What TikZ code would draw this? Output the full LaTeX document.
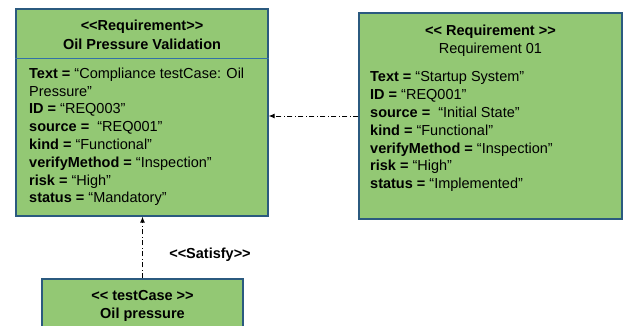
\documentclass[tikz,border=0pt]{standalone}
\usepackage{fontspec}
\setmainfont{Liberation Sans}
\usetikzlibrary{arrows.meta}
\definecolor{boxfill}{HTML}{93C874}
\definecolor{boxline}{HTML}{2B5A7F}
\definecolor{sepline}{HTML}{3272A8}
\newcommand{\guil}{<{}<}
\newcommand{\guir}{>{}>}
\tikzset{
  block/.style={draw=boxline, line width=1.3pt, fill=boxfill, inner sep=0pt},
  txt/.style={inner sep=0pt, font=\fontsize{14.5}{17.8}\selectfont},
  attrs/.style={txt, align=left, anchor=north west},
  title/.style={txt, anchor=base},
  dep/.style={line width=0.9pt, dash pattern=on 5pt off 2.5pt on 1pt off 2.5pt,
    -{Latex[length=6pt,width=5pt]}}
}
\begin{document}
\begin{tikzpicture}[x=1pt,y=-1pt]
\useasboundingbox (0,0) rectangle (623,325);
\clip (0,0) rectangle (623,325);

% requirement being validated
\node[block, minimum width=252pt, minimum height=207pt] (opv) at (142,112.5) {};
\draw[sepline, line width=1pt] (opv.west |- 0,58) coordinate (sepl) -- (opv.east |- 0,58) coordinate (sepr);
\node[title] (opvst) at (142,30) {\textbf{\guil Requirement\guir}};
\node[title] (opvname) at (142,49) {\textbf{Oil Pressure Validation}};
\node[attrs] (opvattr) at (29,67.5) {%
\textbf{Text =} “Compliance testCase: Oil\\
Pressure"\\
\textbf{ID =} “REQ003”\\
\textbf{source =} \ “REQ001”\\
\textbf{kind =} “Functional”\\
\textbf{verifyMethod =} “Inspection”\\
\textbf{risk =} “High”\\
\textbf{status =} “Mandatory”};

% source requirement
\node[block, minimum width=263pt, minimum height=206pt] (req) at (490.5,116) {};
\node[title] (reqst) at (490.5,35) {\textbf{\guil{} Requirement \guir}};
\node[title] (reqname) at (490.5,53) {Requirement 01};
\node[attrs] (reqattr) at (370,71.5) {%
\textbf{Text =} “Startup System”\\
\textbf{ID =} “REQ001”\\
\textbf{source =} \ “Initial State”\\
\textbf{kind =} “Functional”\\
\textbf{verifyMethod =} “Inspection”\\
\textbf{risk =} “High”\\
\textbf{status =} “Implemented”};

% test case
\node[block, minimum width=201pt, minimum height=80pt] (tc) at (142.5,319) {};
\node[title] (tcst) at (142.5,300) {\textbf{\guil{} testCase \guir}};
\node[title] (tcname) at (142.5,318) {\textbf{Oil pressure}};

% relations
\draw[dep] (req.west) -- (req.west -| opv.east);
\draw[dep] (tc.north) -- (tc.north |- opv.south);
\node[title] (sat) at (210,258) {\textbf{\guil Satisfy\guir}};
\end{tikzpicture}
\end{document}
